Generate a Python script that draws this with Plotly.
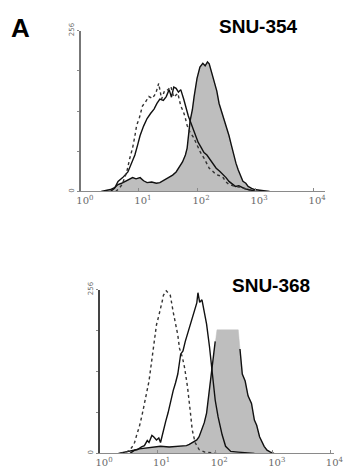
import plotly.graph_objects as go

# Fluorescence intensity on a log scale: positions are in decades (10^0 .. 10^4)
DECADE_TICKS = [0, 1, 2, 3, 4]
DECADE_LABELS = ["10<sup>0</sup>", "10<sup>1</sup>", "10<sup>2</sup>", "10<sup>3</sup>", "10<sup>4</sup>"]
COUNT_TICKS = [0, 256]
COUNT_LABELS = ["0", "256"]

# ---- SNU-354 ----
snu354_stained_x = [0.35, 0.45, 0.51, 0.58, 0.64, 0.70, 0.76, 0.82, 0.89, 0.95, 1.02, 1.08, 1.14, 1.22, 1.30, 1.36, 1.44, 1.52, 1.58, 1.64,
                    1.70, 1.75, 1.80, 1.83, 1.88, 1.92, 1.95, 2.00, 2.05, 2.10, 2.14, 2.18, 2.21, 2.25, 2.30, 2.34, 2.38, 2.42, 2.46,
                    2.50, 2.55, 2.59, 2.63, 2.67, 2.71, 2.75, 2.79, 2.84, 2.88, 2.94, 2.99, 3.08, 3.16, 3.25]
snu354_stained_y = [0, 2, 3, 6, 11, 13, 16, 19, 22, 20, 22, 17, 14, 15, 13, 14, 18, 22, 26, 31,
                    40, 47, 58, 69, 112, 130, 151, 180, 198, 204, 200, 206, 203, 190, 172, 160, 140, 128, 117,
                    104, 89, 74, 58, 45, 34, 26, 16, 13, 8, 5, 3, 2, 1, 0]

snu354_solid_x = [0.51, 0.58, 0.64, 0.72, 0.81, 0.87, 0.93, 0.98, 1.02, 1.08, 1.14, 1.20, 1.26, 1.31, 1.36, 1.42, 1.47, 1.52, 1.56,
                  1.60, 1.64, 1.68, 1.72, 1.77, 1.81, 1.85, 1.89, 1.93, 1.98, 2.02, 2.07, 2.12, 2.17, 2.21, 2.27, 2.33, 2.39,
                  2.45, 2.50, 2.55, 2.60, 2.66, 2.72, 2.78, 2.83, 2.88, 2.95, 3.02]
snu354_solid_y = [0, 5, 16, 22, 31, 45, 58, 75, 89, 104, 116, 124, 131, 140, 147, 145, 151, 162, 150,
                  166, 164, 158, 162, 147, 132, 120, 110, 100, 88, 78, 70, 62, 58, 53, 45, 37, 32,
                  27, 22, 16, 12, 8, 9, 6, 4, 3, 1, 0]

snu354_dotted_x = [0.60, 0.66, 0.71, 0.75, 0.79, 0.84, 0.89, 0.93, 0.96, 1.01, 1.06, 1.11, 1.17, 1.23, 1.29, 1.34, 1.39, 1.44, 1.50,
                   1.55, 1.60, 1.67, 1.72, 1.76, 1.79, 1.83, 1.88, 1.94, 2.00, 2.06, 2.12, 2.17, 2.21, 2.27, 2.33, 2.39, 2.45,
                   2.50, 2.55, 2.66, 2.78, 2.88, 2.99]
snu354_dotted_y = [0, 5, 11, 22, 31, 52, 69, 88, 105, 118, 136, 142, 151, 148, 156, 172, 147, 160, 162,
                   167, 150, 156, 136, 128, 120, 105, 94, 86, 73, 62, 53, 45, 37, 32, 27, 25, 22,
                   15, 11, 8, 6, 3, 0]

# ---- SNU-368 ----
snu368_stained_x = [0.52, 0.60, 0.68, 0.77, 0.90, 1.05, 1.20, 1.38, 1.50, 1.55, 1.62, 1.68, 1.72, 1.77, 1.81, 1.85, 1.90, 1.94,
                    1.97, 2.00, 2.03, 2.10, 2.20, 2.30, 2.40, 2.43, 2.47, 2.52, 2.57, 2.63, 2.68, 2.72, 2.77, 2.85, 2.90, 2.96, 3.02]
snu368_stained_y = [0, 5, 7, 8, 10, 11, 10, 11, 12, 14, 18, 21, 26, 37, 48, 63, 98, 125,
                    149, 175, 193, 193, 193, 193, 193, 163, 124, 113, 90, 78, 52, 44, 26, 11, 5, 2, 0]

snu368_solid_x = [0.32, 0.43, 0.55, 0.65, 0.72, 0.77, 0.82, 0.85, 0.90, 0.93, 0.98, 1.02, 1.05, 1.10, 1.14, 1.18, 1.23, 1.27,
                  1.31, 1.35, 1.40, 1.44, 1.48, 1.53, 1.57, 1.61, 1.65, 1.68, 1.70, 1.73, 1.77, 1.80, 1.85, 1.90, 1.95, 2.00,
                  2.05, 2.12, 2.18, 2.27, 2.40, 2.55, 2.68]
snu368_solid_y = [0, 2, 4, 6, 10, 12, 20, 17, 28, 26, 21, 24, 17, 37, 50, 63, 85, 98,
                  110, 124, 155, 160, 175, 190, 205, 215, 225, 235, 251, 236, 240, 225, 202, 167, 121, 83,
                  57, 29, 11, 3, 2, 1, 0]

snu368_dotted_x = [0.35, 0.48, 0.55, 0.60, 0.64, 0.68, 0.73, 0.77, 0.81, 0.85, 0.89, 0.93, 0.98, 1.02, 1.05, 1.08, 1.10, 1.15,
                   1.19, 1.22, 1.27, 1.32, 1.35, 1.38, 1.43, 1.47, 1.52, 1.57, 1.60, 1.65, 1.72, 1.82, 2.02]
snu368_dotted_y = [0, 3, 9, 17, 30, 41, 60, 78, 96, 113, 140, 170, 201, 215, 225, 238, 247, 254,
                   250, 247, 221, 201, 185, 164, 150, 133, 103, 63, 37, 17, 6, 2, 0]

FILL_GRAY = "#bebebe"
LINE_BLACK = "#111111"
AXIS_GRAY = "#8a8a8a"
LABEL_GRAY = "#6a6a6a"

fig = go.Figure()


def add_panel(xa, ya, stained_x, stained_y, solid_x, solid_y, dotted_x, dotted_y, plateau=None):
    # stained sample: grey filled histogram with black outline
    fig.add_trace(go.Scatter(x=stained_x, y=stained_y, mode="lines", fill="tozeroy",
                             fillcolor=FILL_GRAY, line=dict(color=FILL_GRAY, width=0.5),
                             xaxis=xa, yaxis=ya, showlegend=False, hoverinfo="skip"))
    outline_y = list(stained_y)
    if plateau is not None:
        outline_y = [None if v >= plateau else v for v in stained_y]
    fig.add_trace(go.Scatter(x=stained_x, y=outline_y, mode="lines",
                             line=dict(color=LINE_BLACK, width=1.4),
                             xaxis=xa, yaxis=ya, showlegend=False, hoverinfo="skip"))
    # second antibody: open solid histogram
    fig.add_trace(go.Scatter(x=solid_x, y=solid_y, mode="lines",
                             line=dict(color=LINE_BLACK, width=1.4),
                             xaxis=xa, yaxis=ya, showlegend=False, hoverinfo="skip"))
    # isotype control: dotted histogram
    fig.add_trace(go.Scatter(x=dotted_x, y=dotted_y, mode="lines",
                             line=dict(color="#333333", width=1.4, dash="dot"),
                             xaxis=xa, yaxis=ya, showlegend=False, hoverinfo="skip"))


add_panel("x", "y", snu354_stained_x, snu354_stained_y, snu354_solid_x, snu354_solid_y,
          snu354_dotted_x, snu354_dotted_y)
add_panel("x2", "y2", snu368_stained_x, snu368_stained_y, snu368_solid_x, snu368_solid_y,
          snu368_dotted_x, snu368_dotted_y, plateau=193)

W, H = 353, 473


def xaxis_style(left_px, right_px, xmax):
    return dict(domain=[left_px / W, right_px / W], range=[0, xmax],
                tickvals=DECADE_TICKS, ticktext=DECADE_LABELS,
                showline=True, linecolor=AXIS_GRAY, linewidth=1,
                ticks="inside", ticklen=3, tickcolor=AXIS_GRAY,
                showgrid=False, zeroline=False, ticklabelshift=4,
                tickfont=dict(family="DejaVu Serif", size=10, color=LABEL_GRAY))


def yaxis_style(bottom_px, top_px, line_color, line_width):
    return dict(domain=[(H - bottom_px) / H, (H - top_px) / H], range=[0, 256],
                tickvals=COUNT_TICKS, ticktext=COUNT_LABELS, tickangle=-90,
                showline=True, linecolor=line_color, linewidth=line_width,
                ticks="outside", ticklen=2, tickcolor=AXIS_GRAY,
                minor=dict(tickmode="linear", tick0=0, dtick=64, ticks="outside",
                           ticklen=2, tickcolor=AXIS_GRAY, showgrid=False),
                showgrid=False, zeroline=False,
                tickfont=dict(family="DejaVu Sans", size=7, color=LABEL_GRAY))


def label(text, x_px, y_px, size):
    return dict(text=f"<b>{text}</b>", x=x_px / W, y=1 - y_px / H, xref="paper", yref="paper",
                xanchor="center", yanchor="middle", showarrow=False,
                font=dict(family="Liberation Sans", size=size, color="black"))


fig.update_layout(
    width=W, height=H,
    margin=dict(l=0, r=0, t=0, b=0),
    paper_bgcolor="white", plot_bgcolor="white",
    xaxis=dict(**xaxis_style(79, 333, 4.2), anchor="y"),
    yaxis=dict(**yaxis_style(187, 23, "#777777", 1.5), anchor="x"),
    xaxis2=dict(**xaxis_style(99, 343, 4.07), anchor="y2"),
    yaxis2=dict(**yaxis_style(454, 287, "#444444", 2.2), anchor="x2"),
    annotations=[
        label("A", 16, 20, 26),
        label("SNU-354", 264, 19, 19),
        label("SNU-368", 277, 283, 19),
    ],
)

fig.write_html("out.html")
